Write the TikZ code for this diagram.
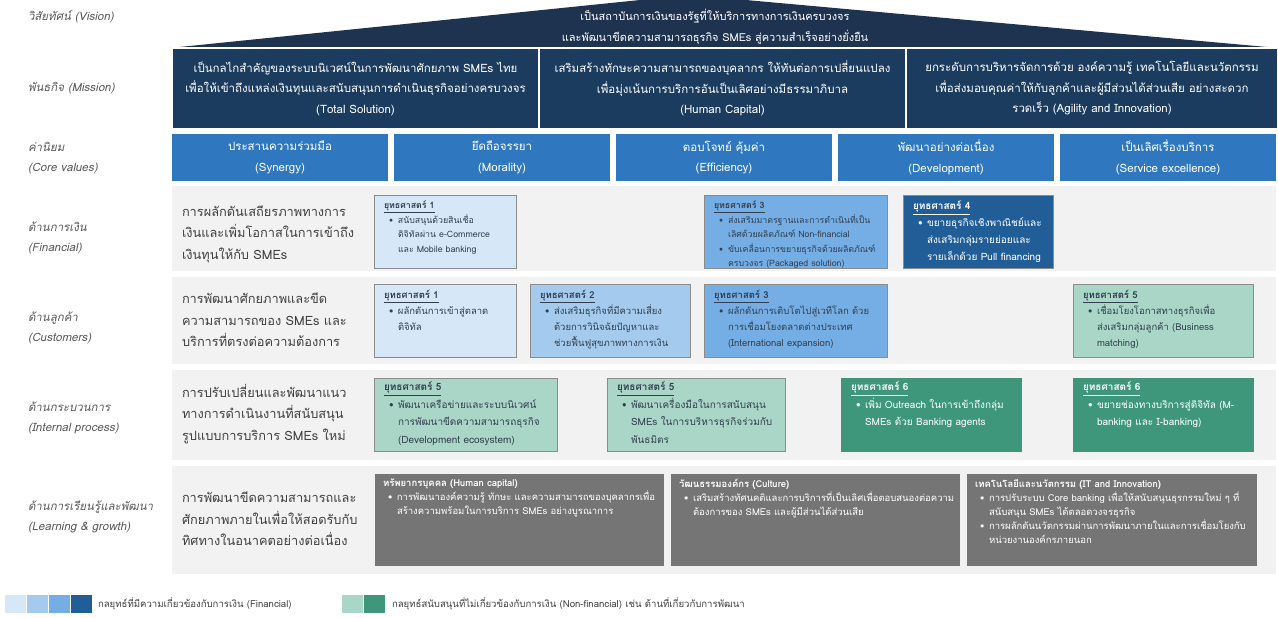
\documentclass[tikz,border=0pt]{standalone}
\usepackage{fontspec}
\setmainfont[Script=Thai]{Loma}
\definecolor{visnavy}{HTML}{1E3350}
\definecolor{misnavy}{HTML}{1B3C5E}
\definecolor{cvblue}{HTML}{2F78C0}
\definecolor{rowgray}{HTML}{F2F2F2}
\definecolor{labgray}{HTML}{595959}
\definecolor{descgray}{HTML}{404040}
\definecolor{finA}{HTML}{D6E8F7}
\definecolor{finB}{HTML}{A4CBEE}
\definecolor{finC}{HTML}{74AEE4}
\definecolor{finD}{HTML}{215E98}
\definecolor{nfA}{HTML}{A9D6C6}
\definecolor{nfB}{HTML}{3E977A}
\definecolor{gboxcol}{HTML}{757575}
\definecolor{bord}{HTML}{8C8C8C}
\definecolor{stxtcol}{HTML}{333F50}
\newcommand\bul[1]{\hspace*{5pt}\makebox[9pt][l]{\textbullet}#1}
\newcommand\ind[1]{\hspace*{14pt}#1}
\newcommand\stitle[1]{\textbf{\underline{#1}}}
\begin{document}
\begin{tikzpicture}[x=1pt,y=-1pt,
  every node/.style={inner sep=0pt, outer sep=0pt},
  lab/.style={anchor=west, align=left, text=labgray, font=\fontsize{11.5}{20.5}\selectfont\itshape},
  desc/.style={anchor=west, align=left, text=descgray, font=\fontsize{12.8}{21.5}\selectfont},
  mis/.style={anchor=north west, fill=misnavy, draw=white, line width=1.2pt, text=white, align=center, minimum width=367pt, minimum height=81pt, font=\fontsize{11.5}{20.5}\selectfont},
  cv/.style={anchor=north west, fill=cvblue, text=white, align=center, minimum width=216pt, minimum height=47pt, font=\fontsize{11.5}{20.5}\selectfont},
  stratbox/.style={anchor=north west, draw=bord, line width=0.8pt, minimum height=73pt},
  stxt/.style={anchor=north west, align=left, font=\fontsize{8.8}{14.5}\selectfont, text=stxtcol},
  ctxt/.style={stxt, font=\fontsize{9.5}{16}\selectfont},
  itxt/.style={stxt, font=\fontsize{10}{17.5}\selectfont},
  wtxt/.style={text=white},
  gbox/.style={anchor=north west, fill=gboxcol, minimum height=92pt},
  gtxt/.style={anchor=north west, align=left, font=\fontsize{9.5}{14}\selectfont, text=white},
  band/.style={fill=rowgray},
  leg/.style={anchor=north west, minimum width=22pt, minimum height=19pt, draw=white, line width=1pt},
  legt/.style={anchor=west, font=\fontsize{9.6}{11}\selectfont, text=descgray},
]
\useasboundingbox[fill=white] (0,0) rectangle (1278,618);
% Vision
\node[lab] (vlab) at (28,17) {วิสัยทัศน์ (Vision)};
\fill[visnavy] (170,48) -- (640,0) -- (746,0) -- (1278,48) -- cycle;
\node[text=white, align=center, font=\fontsize{11}{21}\selectfont] (vision) at (715,27)
  {เป็นสถาบันการเงินของรัฐที่ให้บริการทางการเงินครบวงจร\\และพัฒนาขีดความสามารถธุรกิจ SMEs สู่ความสำเร็จอย่างยั่งยืน};
% Mission
\node[lab] (mlab) at (28,88) {พันธกิจ (Mission)};
\node[mis] (m1) at (172,48) {เป็นกลไกสำคัญของระบบนิเวศน์ในการพัฒนาศักยภาพ SMEs ไทย\\เพื่อให้เข้าถึงแหล่งเงินทุนและสนับสนุนการดำเนินธุรกิจอย่างครบวงจร\\(Total Solution)};
\node[mis] (m2) at (539,48) {เสริมสร้างทักษะความสามารถของบุคลากร ให้ทันต่อการเปลี่ยนแปลง\\เพื่อมุ่งเน้นการบริการอันเป็นเลิศอย่างมีธรรมาภิบาล\\(Human Capital)};
\node[mis, minimum width=372pt] (m3) at (906,48) {ยกระดับการบริหารจัดการด้วย องค์ความรู้ เทคโนโลยีและนวัตกรรม\\เพื่อส่งมอบคุณค่าให้กับลูกค้าและผู้มีส่วนได้ส่วนเสีย อย่างสะดวก\\รวดเร็ว (Agility and Innovation)};
% Core values
\node[lab] (cvlab) at (28,158) {ค่านิยม\\(Core values)};
\node[cv] (cv1) at (172,134) {ประสานความร่วมมือ\\(Synergy)};
\node[cv] (cv2) at (394,134) {ยึดถือจรรยา\\(Morality)};
\node[cv] (cv3) at (616,134) {ตอบโจทย์ คุ้มค่า\\(Efficiency)};
\node[cv] (cv4) at (838,134) {พัฒนาอย่างต่อเนื่อง\\(Development)};
\node[cv] (cv5) at (1060,134) {เป็นเลิศเรื่องบริการ\\(Service excellence)};
% Row bands
\fill[band] (172,186) rectangle (1276,271);
\fill[band] (172,277) rectangle (1276,364);
\fill[band] (172,370) rectangle (1276,460);
\fill[band] (172,466) rectangle (1276,574);
% Financial
\node[lab] (flab) at (28,238) {ด้านการเงิน\\(Financial)};
\node[desc] (fdesc) at (182,234) {การผลักดันเสถียรภาพทางการ\\เงินและเพิ่มโอกาสในการเข้าถึง\\เงินทุนให้กับ SMEs};
\node[stratbox, fill=finA, minimum width=142pt] (fs1) at (374,195) {};
\node[stxt] at ([xshift=10pt,yshift=-6pt]fs1.north west) {\stitle{ยุทธศาสตร์ 1}\\\bul{สนับสนุนด้วยสินเชื่อ}\\\ind{ดิจิทัลผ่าน e-Commerce}\\\ind{และ Mobile banking}};
\node[stratbox, fill=finC, minimum width=183pt] (fs3) at (704,195) {};
\node[stxt] at ([xshift=10pt,yshift=-6pt]fs3.north west) {\stitle{ยุทธศาสตร์ 3}\\\bul{ส่งเสริมมาตรฐานและการดำเนินที่เป็น}\\\ind{เลิศด้วยผลิตภัณฑ์ Non-financial}\\\bul{ขับเคลื่อนการขยายธุรกิจด้วยผลิตภัณฑ์}\\\ind{ครบวงจร (Packaged solution)}};
\node[stratbox, fill=finD, minimum width=150pt] (fs4) at (903,195) {};
\node[stxt, wtxt, font=\fontsize{10}{17}\selectfont] at ([xshift=10pt,yshift=-6pt]fs4.north west) {\stitle{ยุทธศาสตร์ 4}\\\bul{ขยายธุรกิจเชิงพาณิชย์และ}\\\ind{ส่งเสริมกลุ่มรายย่อยและ}\\\ind{รายเล็กด้วย Pull financing}};
% Customers
\node[lab] (clab) at (28,328) {ด้านลูกค้า\\(Customers)};
\node[desc] (cdesc) at (182,320) {การพัฒนาศักยภาพและขีด\\ความสามารถของ SMEs และ\\บริการที่ตรงต่อความต้องการ};
\node[stratbox, fill=finA, minimum width=142pt] (cs1) at (374,284) {};
\node[ctxt] at ([xshift=10pt,yshift=-6pt]cs1.north west) {\stitle{ยุทธศาสตร์ 1}\\\bul{ผลักดันการเข้าสู่ตลาด}\\\ind{ดิจิทัล}};
\node[stratbox, fill=finB, minimum width=160pt] (cs2) at (530,284) {};
\node[ctxt] at ([xshift=10pt,yshift=-6pt]cs2.north west) {\stitle{ยุทธศาสตร์ 2}\\\bul{ส่งเสริมธุรกิจที่มีความเสี่ยง}\\\ind{ด้วยการวินิจฉัยปัญหาและ}\\\ind{ช่วยฟื้นฟูสุขภาพทางการเงิน}};
\node[stratbox, fill=finC, minimum width=183pt] (cs3) at (704,284) {};
\node[ctxt] at ([xshift=10pt,yshift=-6pt]cs3.north west) {\stitle{ยุทธศาสตร์ 3}\\\bul{ผลักดันการเติบโตไปสู่เวทีโลก ด้วย}\\\ind{การเชื่อมโยงตลาดต่างประเทศ}\\\ind{(International expansion)}};
\node[stratbox, fill=nfA, minimum width=180pt] (cs5) at (1073,284) {};
\node[ctxt] at ([xshift=10pt,yshift=-6pt]cs5.north west) {\stitle{ยุทธศาสตร์ 5}\\\bul{เชื่อมโยงโอกาสทางธุรกิจเพื่อ}\\\ind{ส่งเสริมกลุ่มลูกค้า (Business}\\\ind{matching)}};
% Internal process
\node[lab] (ilab) at (28,418) {ด้านกระบวนการ\\(Internal process)};
\node[desc] (idesc) at (182,414) {การปรับเปลี่ยนและพัฒนาแนว\\ทางการดำเนินงานที่สนับสนุน\\รูปแบบการบริการ SMEs ใหม่};
\node[stratbox, fill=nfA, minimum width=183pt] (is5) at (374,378) {};
\node[itxt] at ([xshift=10pt,yshift=-4pt]is5.north west) {\stitle{ยุทธศาสตร์ 5}\\\bul{พัฒนาเครือข่ายและระบบนิเวศน์}\\\ind{การพัฒนาขีดความสามารถธุรกิจ}\\\ind{(Development ecosystem)}};
\node[stratbox, fill=nfA, minimum width=178pt] (is5b) at (607,378) {};
\node[itxt] at ([xshift=10pt,yshift=-4pt]is5b.north west) {\stitle{ยุทธศาสตร์ 5}\\\bul{พัฒนาเครื่องมือในการสนับสนุน}\\\ind{SMEs ในการบริหารธุรกิจร่วมกับ}\\\ind{พันธมิตร}};
\node[stratbox, fill=nfB, draw=nfB, minimum width=180pt] (is6) at (841,378) {};
\node[itxt, wtxt] at ([xshift=10pt,yshift=-4pt]is6.north west) {\stitle{ยุทธศาสตร์ 6}\\\bul{เพิ่ม Outreach ในการเข้าถึงกลุ่ม}\\\ind{SMEs ด้วย Banking agents}};
\node[stratbox, fill=nfB, draw=nfB, minimum width=180pt] (is6b) at (1073,378) {};
\node[itxt, wtxt] at ([xshift=10pt,yshift=-4pt]is6b.north west) {\stitle{ยุทธศาสตร์ 6}\\\bul{ขยายช่องทางบริการสู่ดิจิทัล (M-}\\\ind{banking และ I-banking)}};
% Learning & growth
\node[lab] (llab) at (28,517) {ด้านการเรียนรู้และพัฒนา\\(Learning \& growth)};
\node[desc] (ldesc) at (182,519) {การพัฒนาขีดความสามารถและ\\ศักยภาพภายในเพื่อให้สอดรับกับ\\ทิศทางในอนาคตอย่างต่อเนื่อง};
\node[gbox, minimum width=289pt] (g1) at (375,474) {};
\node[gtxt] at ([xshift=8pt,yshift=-5pt]g1.north west) {\textbf{ทรัพยากรบุคคล (Human capital)}\\\bul{การพัฒนาองค์ความรู้ ทักษะ และความสามารถของบุคลากรเพื่อ}\\\ind{สร้างความพร้อมในการบริการ SMEs อย่างบูรณาการ}};
\node[gbox, minimum width=289pt] (g2) at (671,474) {};
\node[gtxt] at ([xshift=8pt,yshift=-5pt]g2.north west) {\textbf{วัฒนธรรมองค์กร (Culture)}\\\bul{เสริมสร้างทัศนคติและการบริการที่เป็นเลิศเพื่อตอบสนองต่อความ}\\\ind{ต้องการของ SMEs และผู้มีส่วนได้ส่วนเสีย}};
\node[gbox, minimum width=290pt] (g3) at (967,474) {};
\node[gtxt] at ([xshift=8pt,yshift=-5pt]g3.north west) {\textbf{เทคโนโลยีและนวัตกรรม (IT and Innovation)}\\\bul{การปรับระบบ Core banking เพื่อให้สนับสนุนธุรกรรมใหม่ ๆ ที่}\\\ind{สนับสนุน SMEs ได้ตลอดวงจรธุรกิจ}\\\bul{การผลักดันนวัตกรรมผ่านการพัฒนาภายในและการเชื่อมโยงกับ}\\\ind{หน่วยงานองค์กรภายนอก}};
% Legend
\node[leg, fill=finA] (la) at (4,594) {};
\node[leg, fill=finB] (lb) at (26,594) {};
\node[leg, fill=finC] (lc) at (48,594) {};
\node[leg, fill=finD] (ld) at (70,594) {};
\node[legt] (lt1) at (98,603.5) {กลยุทธ์ที่มีความเกี่ยวข้องกับการเงิน (Financial)};
\node[leg, fill=nfA] (le) at (341,594) {};
\node[leg, fill=nfB] (lf) at (363,594) {};
\node[legt] (lt2) at (392,603.5) {กลยุทธ์สนับสนุนที่ไม่เกี่ยวข้องกับการเงิน (Non-financial) เช่น ด้านที่เกี่ยวกับการพัฒนา};
\end{tikzpicture}
\end{document}
